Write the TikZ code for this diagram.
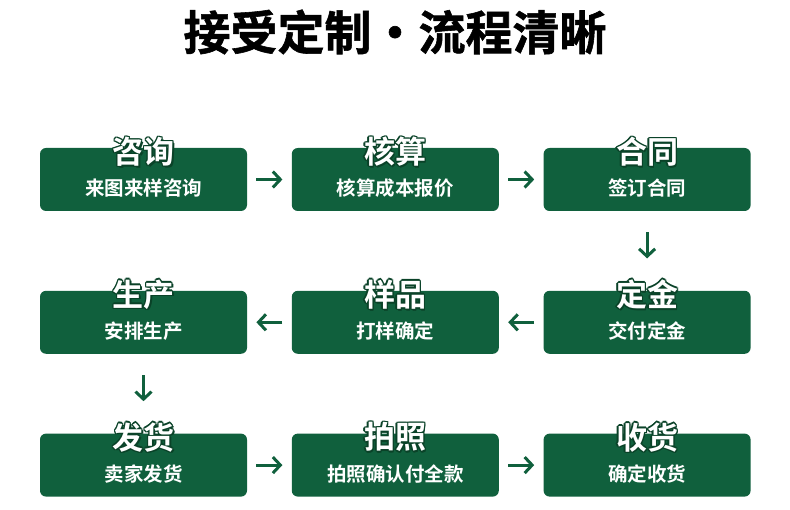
\documentclass[tikz,border=0pt]{standalone}
\usepackage{fontspec}
\usepackage[dvipsnames]{xcolor}
\usetikzlibrary{positioning,arrows.meta}
\newfontfamily\cjk{Noto Sans CJK SC}[BoldFont={Noto Sans CJK SC Bold}]
\newfontfamily\cjkheavy{Noto Sans CJK SC Bold}[FakeBold=1.2]
\definecolor{boxgreen}{RGB}{16,96,61}
\definecolor{rimgreen}{RGB}{10,66,40}

% white heading with a dark rim, set on the top edge of a box
\newcommand{\stephead}[2]{%
  \foreach \a in {0,45,...,315}
    \node[headtext,text=rimgreen] at ([shift={(\a:1.4pt)}]#1.north) {#2};
  \node[headtext,text=rimgreen] at ([xshift=1.6pt,yshift=-1.8pt]#1.north) {#2};
  \node[headtext,text=white] at (#1.north) {#2};
}

\begin{document}
\begin{tikzpicture}[x=1pt,y=-1pt,thick,font=\cjk,
    stepbox/.style={rectangle,rounded corners=6pt,fill=boxgreen,minimum width=207pt,minimum height=63pt,inner sep=0pt},
    headtext/.style={font=\cjk\bfseries\fontsize{31}{31}\selectfont,yshift=-4pt,inner sep=0pt},
    subtext/.style={text=white,font=\cjk\bfseries\fontsize{19.5}{20}\selectfont,inner sep=0pt},
    flow/.style={-{Straight Barb[length=7.5pt,width=16pt,line width=3pt]},line width=3pt,draw=boxgreen}]

    \useasboundingbox (0,0) rectangle (790,510);

    \node[font=\cjkheavy\fontsize{47}{47}\selectfont,inner sep=0pt] (title) at (395,32) {接受定制·流程清晰};

    \node[stepbox] (zx) at (143.5,179.5) {};
    \node[stepbox] (hs) [right=44pt of zx] {};
    \node[stepbox] (ht) [right=44pt of hs] {};
    \node[stepbox] (dj) [below=79pt of ht] {};
    \node[stepbox] (yp) [left=44pt of dj] {};
    \node[stepbox] (sc) [left=44pt of yp] {};
    \node[stepbox] (fh) [below=79pt of sc] {};
    \node[stepbox] (pz) [right=44pt of fh] {};
    \node[stepbox] (sh) [right=44pt of pz] {};

    \stephead{zx}{咨询}
    \stephead{hs}{核算}
    \stephead{ht}{合同}
    \stephead{dj}{定金}
    \stephead{yp}{样品}
    \stephead{sc}{生产}
    \stephead{fh}{发货}
    \stephead{pz}{拍照}
    \stephead{sh}{收货}

    \node[subtext] at ([yshift=-8.5pt]zx.center) {来图来样咨询};
    \node[subtext] at ([yshift=-8.5pt]hs.center) {核算成本报价};
    \node[subtext] at ([yshift=-8.5pt]ht.center) {签订合同};
    \node[subtext] at ([yshift=-8.5pt]dj.center) {交付定金};
    \node[subtext] at ([yshift=-8.5pt]yp.center) {打样确定};
    \node[subtext] at ([yshift=-8.5pt]sc.center) {安排生产};
    \node[subtext] at ([yshift=-8.5pt]fh.center) {卖家发货};
    \node[subtext] at ([yshift=-8.5pt]pz.center) {拍照确认付全款};
    \node[subtext] at ([yshift=-8.5pt]sh.center) {确定收货};

    \draw[flow,shorten <=9pt,shorten >=9pt] (zx) -- (hs);
    \draw[flow,shorten <=9pt,shorten >=9pt] (hs) -- (ht);
    \draw[flow,shorten <=21pt,shorten >=32pt] (ht) -- (dj);
    \draw[flow,shorten <=9pt,shorten >=9pt] (dj) -- (yp);
    \draw[flow,shorten <=9pt,shorten >=9pt] (yp) -- (sc);
    \draw[flow,shorten <=21pt,shorten >=32pt] (sc) -- (fh);
    \draw[flow,shorten <=9pt,shorten >=9pt] (fh) -- (pz);
    \draw[flow,shorten <=9pt,shorten >=9pt] (pz) -- (sh);

\end{tikzpicture}
\end{document}
